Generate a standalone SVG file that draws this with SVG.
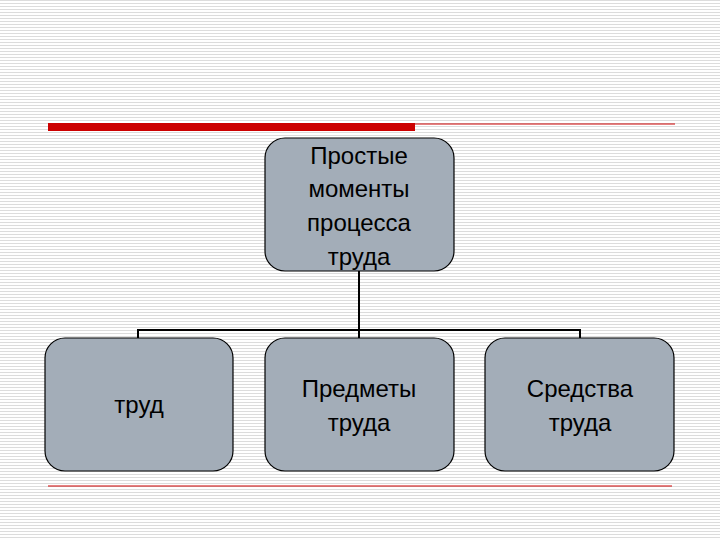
<svg xmlns="http://www.w3.org/2000/svg" width="720" height="540" viewBox="0 0 720 540">
<style>
.box{fill:#a3adb8;stroke:#000;stroke-width:1.2}
.t{font-family:"Liberation Sans",Arial,sans-serif;font-size:24px;fill:#000;text-anchor:middle}
.c{fill:none;stroke:#000;stroke-width:2}
</style>
<defs>
<pattern id="st" width="4" height="3" patternUnits="userSpaceOnUse">
<rect width="4" height="3" fill="#fff"/><rect width="4" height="1" fill="#dcdcdc"/>
</pattern>
</defs>
<rect width="720" height="540" fill="url(#st)"/>
<rect x="48" y="123" width="367" height="8" fill="#cc0000"/>
<line x1="415" y1="124" x2="675" y2="124" stroke="#cc0000" stroke-width="1"/>
<line x1="48" y1="486" x2="672" y2="486" stroke="#cc0000" stroke-width="1"/>
<g id="connectors">
<path class="c" d="M359 271V330M138 330H580M138 329V338M359 330V338M580 329V338"/>
</g>
<g id="top"><rect class="box" x="265" y="138" width="189" height="133" rx="20"/>
<text class="t" x="359" y="164">Простые</text><text class="t" x="359" y="197">моменты</text><text class="t" x="359" y="231">процесса</text><text class="t" x="359" y="265">труда</text></g>
<g id="n1"><rect class="box" x="45" y="338" width="188" height="133" rx="20"/>
<text class="t" x="139" y="413">труд</text></g>
<g id="n2"><rect class="box" x="265" y="338" width="189" height="133" rx="20"/>
<text class="t" x="359" y="397">Предметы</text><text class="t" x="359" y="431">труда</text></g>
<g id="n3"><rect class="box" x="485" y="338" width="189" height="133" rx="20"/>
<text class="t" x="580" y="397">Средства</text><text class="t" x="580" y="431">труда</text></g>
</svg>
